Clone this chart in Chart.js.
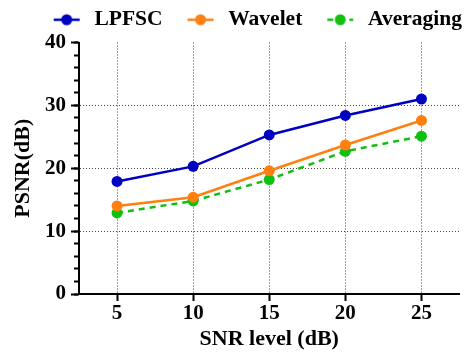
<!DOCTYPE html>
<html>
<head>
<meta charset="utf-8">
<script src="https://cdn.jsdelivr.net/npm/chart.js@4"></script>
<style>
  html, body { margin: 0; padding: 0; background: #fff; }
  #wrap { width: 465px; height: 356px; }
</style>
</head>
<body>
<div id="wrap"><canvas id="chart" width="465" height="356"></canvas></div>
<script>
const snrLevels = ['5', '10', '15', '20', '25'];
const lpfsc = [17.9, 20.3, 25.3, 28.4, 31.0];
const wavelet = [14.0, 15.4, 19.6, 23.7, 27.6];
const averaging = [12.9, 14.8, 18.2, 22.7, 25.1];
const yMin = 0, yMax = 40, yMajorStep = 10, yMinorStep = 2;

const FONT = "'Liberation Serif', 'Times New Roman', serif";

// legend marker: short line with a dot on it (left margin gives the gap between items)
function legendMarker(color, dashed) {
    const c = document.createElement('canvas');
    c.width = 52; c.height = 14;
    const g = c.getContext('2d');
    g.strokeStyle = color; g.lineWidth = 2.5;
    if (dashed) g.setLineDash([6, 5]);
    g.beginPath(); g.moveTo(22, 7); g.lineTo(48, 7); g.stroke();
    g.fillStyle = color;
    g.beginPath(); g.arc(35, 7, 5.5, 0, Math.PI * 2); g.fill();
    return c;
}

const series = [
    ['LPFSC', lpfsc, '#0000c0', false],
    ['Wavelet', wavelet, '#ff8010', false],
    ['Averaging', averaging, '#10c010', true],
];

// empty axes used only as spacers
const spacer = (position, size) => ({
    position, display: true,
    afterFit: s => { if (position === 'top') s.height = size; else s.width = size; },
    border: { display: false }, grid: { display: false }, ticks: { display: false },
});

new Chart(document.getElementById('chart'), {
    type: 'line',
    data: {
        labels: snrLevels,
        datasets: series.map(([label, data, color, dashed]) => ({
            label, data,
            borderColor: color, backgroundColor: color,
            borderWidth: 2.5,
            borderDash: dashed ? [6, 5] : [],
            pointRadius: 5.5, pointHoverRadius: 5.5,
            pointBackgroundColor: color, pointBorderWidth: 0,
            pointStyle: 'circle',
            tension: 0, yAxisID: 'y',
            legendImg: legendMarker(color, dashed),
        })),
    },
    options: {
        responsive: false,
        animation: false,
        layout: { padding: { left: 0, right: 0, top: 6, bottom: 0 } },
        plugins: {
            tooltip: { enabled: false },
            legend: {
                position: 'top', align: 'end',
                labels: {
                    usePointStyle: true, pointStyleWidth: 52, boxHeight: 14,
                    padding: 3,
                    color: '#000',
                    font: { family: FONT, size: 21.5, weight: 'bold' },
                    generateLabels: chart => chart.data.datasets.map((ds, i) => ({
                        text: ds.label, pointStyle: ds.legendImg, datasetIndex: i,
                        fillStyle: ds.borderColor, strokeStyle: ds.borderColor, lineWidth: 0,
                        fontColor: '#000',
                    })),
                },
            },
        },
        scales: {
            x: {
                type: 'category', offset: true,
                afterFit: s => { s.height = 62; },
                border: { display: true, color: '#000', width: 2, dash: [1, 2] },
                grid: { offset: false, color: '#444', lineWidth: 1, drawTicks: true, tickLength: 7, tickColor: '#000', tickWidth: 2, tickBorderDash: [] },
                ticks: { color: '#000', padding: 0, font: { family: FONT, size: 21, weight: 'bold' } },
                title: { display: true, text: 'SNR level (dB)', color: '#000', padding: { top: 0, bottom: 3 }, font: { family: FONT, size: 22, weight: 'bold' } },
            },
            xTop: spacer('top', 2),
            yRight: spacer('right', 5),
            y: {
                min: yMin, max: yMax, weight: 1,
                afterFit: s => { s.width = 79; },
                border: { display: true, color: '#000', width: 2, dash: [1, 2] },
                grid: {
                    color: ctx => (ctx.tick && (ctx.tick.value === yMin || ctx.tick.value === yMax)) ? 'rgba(0,0,0,0)' : '#444',
                    lineWidth: 1, drawTicks: true, tickLength: 8, tickColor: '#000', tickWidth: 2, tickBorderDash: [],
                },
                ticks: { stepSize: yMajorStep, color: '#000', padding: 5, font: { family: FONT, size: 21, weight: 'bold' } },
                title: { display: true, text: 'PSNR(dB)', color: '#000', padding: { top: 10, bottom: 0 }, font: { family: FONT, size: 22, weight: 'bold' } },
            },
            yMinor: {
                position: 'left', min: yMin, max: yMax, weight: 0,
                afterFit: s => { s.width = 0; },
                border: { display: false },
                grid: { drawOnChartArea: false, drawTicks: true, tickLength: 5, tickColor: '#000', tickWidth: 2 },
                ticks: { stepSize: yMinorStep, display: false },
            },
        },
    },
});
</script>
</body>
</html>
